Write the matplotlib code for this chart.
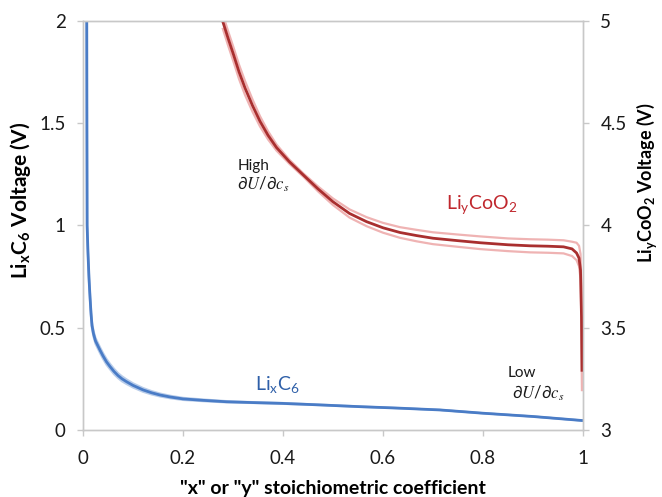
import matplotlib
matplotlib.use('Agg')
import matplotlib.pyplot as plt

plt.rcParams['font.family'] = ['Lato', 'DejaVu Sans']
plt.rcParams['mathtext.fontset'] = 'stix'
plt.rcParams['mathtext.default'] = 'regular'

# graphite anode, Li_x C_6 (left axis)
blue_x = [0.0075, 0.0078, 0.0082, 0.010, 0.012, 0.014, 0.016, 0.018, 0.021, 0.025, 0.030,
          0.034, 0.040, 0.047, 0.054, 0.062, 0.070, 0.078, 0.087, 0.100, 0.120, 0.137,
          0.154, 0.175, 0.200, 0.240, 0.287, 0.340, 0.399, 0.470, 0.554, 0.630, 0.714,
          0.800, 0.900, 1.000]
blue_v = [2.000, 1.500, 1.000, 0.860, 0.740, 0.650, 0.570, 0.510, 0.470, 0.435, 0.410,
          0.390, 0.362, 0.333, 0.310, 0.286, 0.266, 0.250, 0.236, 0.218, 0.196, 0.182,
          0.171, 0.161, 0.152, 0.145, 0.138, 0.134, 0.130, 0.123, 0.114, 0.107, 0.098,
          0.082, 0.066, 0.046]
blue_hi = [2.000, 1.500, 1.000, 0.870, 0.752, 0.663, 0.583, 0.524, 0.484, 0.449, 0.424,
           0.404, 0.376, 0.347, 0.323, 0.299, 0.278, 0.262, 0.247, 0.228, 0.205, 0.190,
           0.178, 0.167, 0.157, 0.149, 0.141, 0.136, 0.132, 0.124, 0.115, 0.107, 0.098,
           0.082, 0.066, 0.046]
blue_lo = [2.000, 1.500, 1.000, 0.850, 0.728, 0.637, 0.557, 0.496, 0.456, 0.421, 0.396,
           0.376, 0.348, 0.319, 0.297, 0.273, 0.254, 0.238, 0.225, 0.208, 0.187, 0.174,
           0.164, 0.155, 0.147, 0.141, 0.135, 0.132, 0.128, 0.122, 0.113, 0.107, 0.098,
           0.082, 0.066, 0.046]

# LiCoO2 cathode, Li_y CoO_2 (right axis)
red_x = [0.279, 0.290, 0.301, 0.312, 0.324, 0.339, 0.354, 0.370, 0.387, 0.413, 0.441,
         0.470, 0.500, 0.533, 0.567, 0.600, 0.634, 0.667, 0.700, 0.750, 0.794, 0.850,
         0.894, 0.930, 0.961, 0.978, 0.987, 0.992, 0.995, 0.997, 0.998]
red_v = [5.000, 4.915, 4.834, 4.750, 4.671, 4.585, 4.508, 4.440, 4.380, 4.310, 4.245,
         4.178, 4.115, 4.058, 4.018, 3.988, 3.965, 3.950, 3.937, 3.925, 3.915, 3.905,
         3.900, 3.898, 3.895, 3.885, 3.865, 3.840, 3.780, 3.550, 3.285]
red_hi = [5.035, 4.950, 4.869, 4.785, 4.705, 4.615, 4.533, 4.460, 4.395, 4.320, 4.253,
          4.190, 4.131, 4.078, 4.040, 4.012, 3.991, 3.978, 3.966, 3.955, 3.946, 3.936,
          3.932, 3.930, 3.927, 3.920, 3.915, 3.900, 3.860, 3.700, 3.190]
red_lo = [4.965, 4.880, 4.799, 4.715, 4.637, 4.555, 4.483, 4.420, 4.365, 4.300, 4.237,
          4.166, 4.099, 4.038, 3.996, 3.964, 3.939, 3.922, 3.908, 3.895, 3.884, 3.874,
          3.868, 3.866, 3.863, 3.850, 3.830, 3.800, 3.740, 3.500, 3.190]

x_ticks = [0, 0.2, 0.4, 0.6, 0.8, 1]
left_ticks = [0, 0.5, 1, 1.5, 2]
right_ticks = [3, 3.5, 4, 4.5, 5]

grey = '#c8c8c8'

fig = plt.figure(figsize=(6.62, 4.97), dpi=100)
ax = fig.add_axes([0.1254, 0.1348, 0.7553, 0.8236])
ax2 = ax.twinx()

ax.plot(blue_x, blue_hi, color='#b9cdea', lw=1.6, solid_capstyle='butt')
ax.plot(blue_x, blue_lo, color='#b9cdea', lw=1.6, solid_capstyle='butt')
ax.plot(blue_x, blue_v, color='#4a7cc6', lw=2.0, solid_capstyle='butt')

ax2.plot(red_x, red_hi, color='#efb3b3', lw=1.6, solid_capstyle='butt')
ax2.plot(red_x, red_lo, color='#efb3b3', lw=1.6, solid_capstyle='butt')
ax2.plot(red_x, red_v, color='#a92f2f', lw=2.0, solid_capstyle='butt')

ax.set_xlim(0, 1)
ax.set_ylim(0, 2)
ax2.set_ylim(3, 5)
ax.set_xticks(x_ticks)
ax.set_xticklabels(['0', '0.2', '0.4', '0.6', '0.8', '1'])
ax.set_yticks(left_ticks)
ax.set_yticklabels(['0', '0.5', '1', '1.5', '2'])
ax2.set_yticks(right_ticks)
ax2.set_yticklabels(['3', '3.5', '4', '4.5', '5'])

for a in (ax, ax2):
    for s in a.spines.values():
        s.set_color(grey)
        s.set_linewidth(1.0)
    a.tick_params(direction='out', length=4.5, width=1.0, color=grey,
                  labelsize=13.5, labelcolor='#1a1a1a', pad=8)
ax.tick_params(axis='x', pad=10)

ax.set_xlabel('"x" or "y" stoichiometric coefficient', fontsize=14,
              fontweight='bold', labelpad=9)
ax.set_ylabel('Li$_x$C$_6$ Voltage (V)', fontsize=15, fontweight='bold')
ax.yaxis.set_label_coords(-0.10, 0.56)
ax2.set_ylabel('Li$_y$CoO$_2$ Voltage (V)', fontsize=13, fontweight='bold')
ax2.yaxis.set_label_coords(1.102, 0.604)

ax.text(0.388, 0.22, 'Li$_x$C$_6$', color='#2e5fa8', fontsize=14,
        ha='center', va='center')
ax2.text(0.798, 4.10, 'Li$_y$CoO$_2$', color='#c0272d', fontsize=14,
         ha='center', va='center')

ax.text(0.31, 1.29, 'High', fontsize=11, color='#1a1a1a', ha='left', va='center')
ax.text(0.308, 1.20, r'$\partial\mathit{U}/\partial\mathit{c}_{\mathit{s}}$',
        fontsize=12, color='#1a1a1a', ha='left', va='center')
ax.text(0.85, 0.28, 'Low', fontsize=11, color='#1a1a1a', ha='left', va='center')
ax.text(0.857, 0.18, r'$\partial\mathit{U}/\partial\mathit{c}_{\mathit{s}}$',
        fontsize=12, color='#1a1a1a', ha='left', va='center')

fig.savefig('out.png', dpi=100)
